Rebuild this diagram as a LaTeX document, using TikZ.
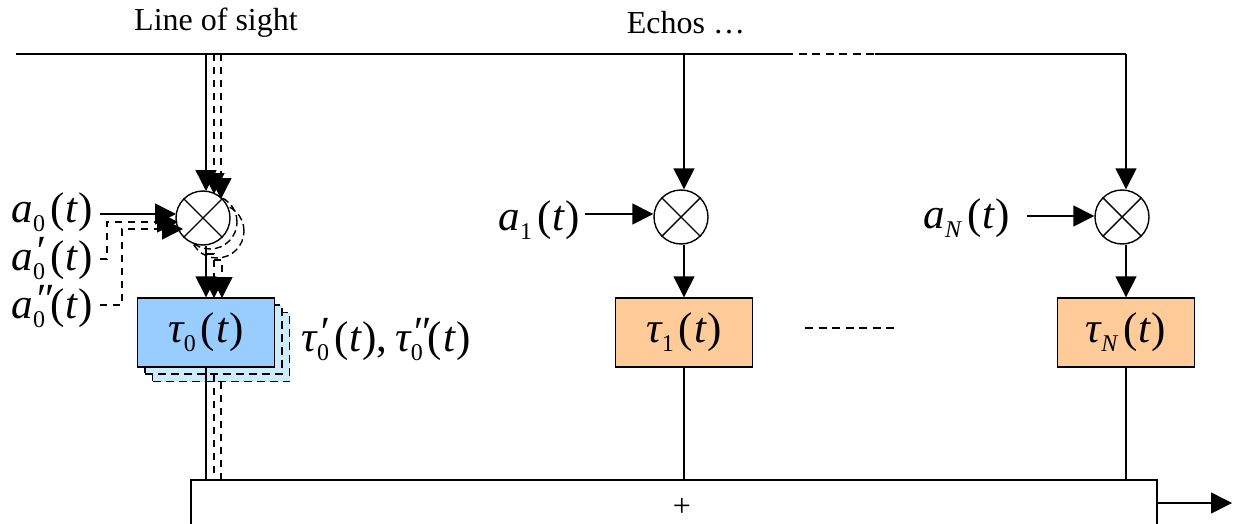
\documentclass[tikz,border=0pt]{standalone}
\usepackage{fontspec}
\setmainfont{Liberation Serif}
\usetikzlibrary{positioning, arrows.meta}
\definecolor{delayblue}{HTML}{99CCFF}
\definecolor{stackblue}{HTML}{CCECFF}
\definecolor{delayorange}{HTML}{FFCC99}
\newcommand{\subfont}{\fontsize{24}{24}\selectfont}
\newcommand{\sym}[3]{{\itshape #1}\rlap{\kern1pt\raisebox{5pt}[0pt][0pt]{\itshape #2}}\raisebox{-9pt}[0pt][0pt]{\subfont #3}\kern5pt(\kern1pt{\itshape t}\kern1pt)}
\begin{document}
\begin{tikzpicture}[x=1pt, y=-1pt,
    line width=1.4pt,
    mult/.style={draw, circle, fill=white, minimum size=54pt, inner sep=0pt},
    ghost/.style={draw, dashed, dash pattern=on 7pt off 4pt, circle, minimum size=54pt, inner sep=0pt},
    delay/.style={draw, fill=delayorange, minimum width=137pt, minimum height=69pt,
                  inner sep=0pt, font=\fontsize{43}{43}\selectfont},
    stack/.style={draw, dashed, dash pattern=on 8pt off 5pt, fill=stackblue,
                  minimum width=137pt, minimum height=69pt, inner sep=0pt},
    sig/.style={inner sep=0pt, font=\fontsize{43}{43}\selectfont},
    title/.style={inner sep=0pt, font=\fontsize{32}{32}\selectfont},
    arr/.style={-{Triangle[length=21pt, width=21pt]}},
    dashline/.style={dashed, dash pattern=on 7pt off 6pt}
  ]
    \useasboundingbox (0,0) rectangle (1238,524);
    % Titles
    \node[title] (los) at (216,23) {Line of sight};
    \node[title] (echo) at (686,23) {Echos …};
    % Bus along the top
    \coordinate (busA) at (16,54);
    \coordinate (busB) at (785,54);
    \coordinate (busC) at (875,54);
    \coordinate (busD) at (1126,54);
    \draw (busA) -- (busB);
    \draw[dashed, dash pattern=on 8pt off 5.5pt] (busB) -- (busC);
    \draw (busC) -- (busD);
    \coordinate (tap0) at (206,54);
    \coordinate (tap0a) at (214,54);
    \coordinate (tap0b) at (221,54);
    \coordinate (tap1) at (684,54);
    % Stacked delays behind the first one
    \node[stack] (stackB) at (221,347) {};
    \node[stack] (stackA) at (213.5,339.5) {};
    \node[delay, fill=delayblue] (delay0) at (206,332.5) {\sym{τ}{}{0}};
    \node[delay, right=339.6pt of delay0] (delay1) {\sym{τ}{}{1}};
    \node[delay, right=303.6pt of delay1] (delayN) {\sym{τ}{}{\textit{N}}};
    % Multipliers
    \node[ghost] (ghostB) at (217,231) {};
    \node[ghost] (ghostA) at (210,222) {};
    \node[mult] (mult0) at (203,218) {};
    \node[mult] (mult1) at (681,217) {};
    \node[mult] (multN) at (1122,217) {};
    \foreach \m in {mult0, mult1, multN} {
      \draw (\m.north west) -- (\m.south east);
      \draw (\m.north east) -- (\m.south west);
    }
    % Gains
    \node[sig, anchor=west] (a0) at (11,212) {\sym{a}{}{0}};
    \node[sig, anchor=west] (a0p) at (11,260) {\sym{a}{′}{0}};
    \node[sig, anchor=west] (a0pp) at (11,308) {\sym{a}{″}{0}};
    \node[sig, anchor=west] (a1) at (498,220) {\sym{a}{}{1}};
    \node[sig, anchor=west] (aN) at (923,218) {\sym{a}{}{\textit{N}}};
    \node[sig, anchor=west] (tauLab) at (301,341) {\sym{τ}{′}{0},\kern8pt\sym{τ}{″}{0}};
    % Inputs to the first multiplier
    \coordinate (in0) at (100,214);
    \coordinate (in0a) at (100,259);
    \coordinate (in0b) at (100,305);
    \draw[arr] (in0) -- (176,214);
    \draw[arr, dashline] (in0a) -- (107,259) |- (178,222);
    \draw[arr, dashline] (in0b) -- (122,305) |- (183,229);
    % Other inputs
    \coordinate (in1) at (585,214);
    \coordinate (inN) at (1027,216);
    \draw[arr] (in1) -- (mult1.west |- in1);
    \draw[arr] (inN) -- (multN.west |- inN);
    % Top bus to multipliers
    \draw[arr] (tap0) -- (206,191);
    \draw[arr, dashline] (tap0a) -- (214,194);
    \draw[arr, dashline] (tap0b) -- (221,199);
    \draw[arr] (tap1) -- (mult1.north -| tap1);
    \draw[arr] (busD) -- (multN.north -| busD);
    % Multipliers to delays
    \draw[arr] (delay0.north |- mult0.south) -- (delay0.north);
    \draw[arr, dashline] (207,254) -| (214,298);
    \draw[arr, dashline] (214,260) -| (222,298);
    \draw[arr] (delay1.north |- mult1.south) -- (delay1.north);
    \draw[arr] (delayN.north |- multN.south) -- (delayN.north);
    % Dashes between delays
    \coordinate (gapA) at (805,328);
    \coordinate (gapB) at (895,328);
    \draw[dashed, dash pattern=on 8pt off 5.5pt] (gapA) -- (gapB);
    % Sum
    \node[draw, minimum width=966pt, minimum height=60pt, inner sep=0pt] (sum) at (674,510) {};
    \node[inner sep=0pt, font=\fontsize{32}{32}\selectfont] (plus) at (682,507) {+};
    \coordinate (out) at (1232,503);
    \draw[arr] (sum.east |- out) -- (out);
    % Delays to sum
    \draw (delay0.south) -- (delay0.south |- sum.north);
    \draw[dashline] (stackA.south -| tap0a) -- (tap0a |- sum.north);
    \draw[dashline] (stackB.south -| tap0b) -- (tap0b |- sum.north);
    \draw (delay1.south) -- (delay1.south |- sum.north);
    \draw (delayN.south) -- (delayN.south |- sum.north);
  \end{tikzpicture}
\end{document}
